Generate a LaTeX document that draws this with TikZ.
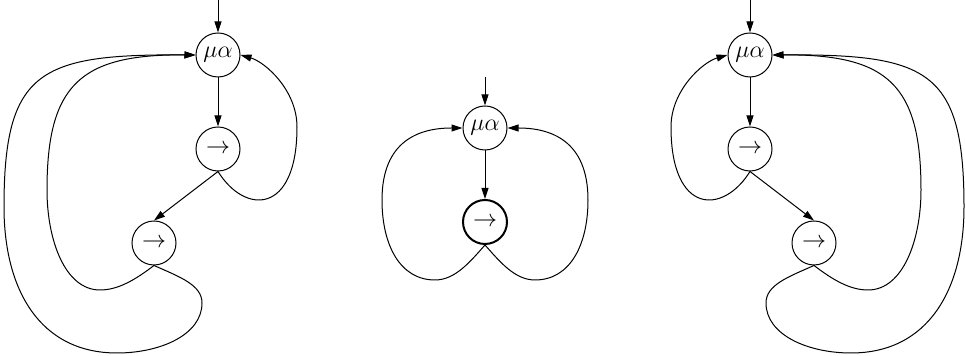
\documentclass[tikz,border=0pt]{standalone}
\usetikzlibrary{arrows.meta}
\begin{document}
\begin{tikzpicture}[x=0.5pt,y=-0.5pt,
  st/.style={circle,draw,line width=0.5pt,minimum size=22pt,inner sep=0pt,font=\fontsize{12}{14}\selectfont},
  ed/.style={line width=0.5pt,-{Triangle[length=5.5pt,width=3.5pt]}},
  lp/.style={line width=0.5pt}]
\useasboundingbox (0,0) rectangle (965,356);
% ---------- left ----------
\node[st] (la) at (218,55) {$\mu\alpha$};
\node[st] (l1) at (218,149) {$\rightarrow$};
\node[st] (l2) at (154,243) {$\rightarrow$};
\coordinate (lin) at (218,0);
\draw[ed] (lin) -- (la.north);
\draw[ed] (la.south) -- (l1.north);
\draw[ed] (l1.south) -- (l2.north);
\draw[ed] (l1.south) .. controls (245,215) and (297,215) .. (297,127)
  .. controls (297,90) and (265,62) .. (la.east);
\draw[ed] (l2.south) .. controls (135,280) and (118,290) .. (100,290)
  .. controls (65,290) and (47,240) .. (47,190)
  .. controls (47,85) and (80,54) .. (la.west);
\draw[ed] (l2.south) .. controls (180,277) and (202,285) .. (202,303)
  .. controls (202,335) and (160,353) .. (117,353)
  .. controls (40,353) and (4,290) .. (4,207)
  .. controls (4,70) and (40,54) .. (la.west);
% ---------- middle ----------
\node[st] (ma) at (485,128) {$\mu\alpha$};
\node[st,line width=1pt] (mb) at (485,222) {$\rightarrow$};
\coordinate (min) at (485,77);
\draw[ed] (min) -- (ma.north);
\draw[ed] (ma.south) -- (mb.north);
\draw[ed] (mb.south) .. controls (470,262) and (455,280) .. (435,280)
  .. controls (400,280) and (382,245) .. (382,200)
  .. controls (382,140) and (420,128) .. (ma.west);
\draw[ed] (mb.south) .. controls (500,262) and (515,280) .. (535,280)
  .. controls (570,280) and (588,245) .. (588,200)
  .. controls (588,140) and (550,128) .. (ma.east);
% ---------- right ----------
\node[st] (ra) at (750,55) {$\mu\alpha$};
\node[st] (r1) at (750,149) {$\rightarrow$};
\node[st] (r2) at (814,243) {$\rightarrow$};
\coordinate (rin) at (750,0);
\draw[ed] (rin) -- (ra.north);
\draw[ed] (ra.south) -- (r1.north);
\draw[ed] (r1.south) -- (r2.north);
\draw[ed] (r1.south) .. controls (723,215) and (671,215) .. (671,127)
  .. controls (671,90) and (703,62) .. (ra.west);
\draw[ed] (r2.south) .. controls (833,280) and (850,290) .. (868,290)
  .. controls (903,290) and (921,240) .. (921,190)
  .. controls (921,85) and (888,54) .. (ra.east);
\draw[ed] (r2.south) .. controls (788,277) and (766,285) .. (766,303)
  .. controls (766,335) and (808,353) .. (851,353)
  .. controls (928,353) and (964,290) .. (964,207)
  .. controls (964,70) and (928,54) .. (ra.east);
\end{tikzpicture}
\end{document}
